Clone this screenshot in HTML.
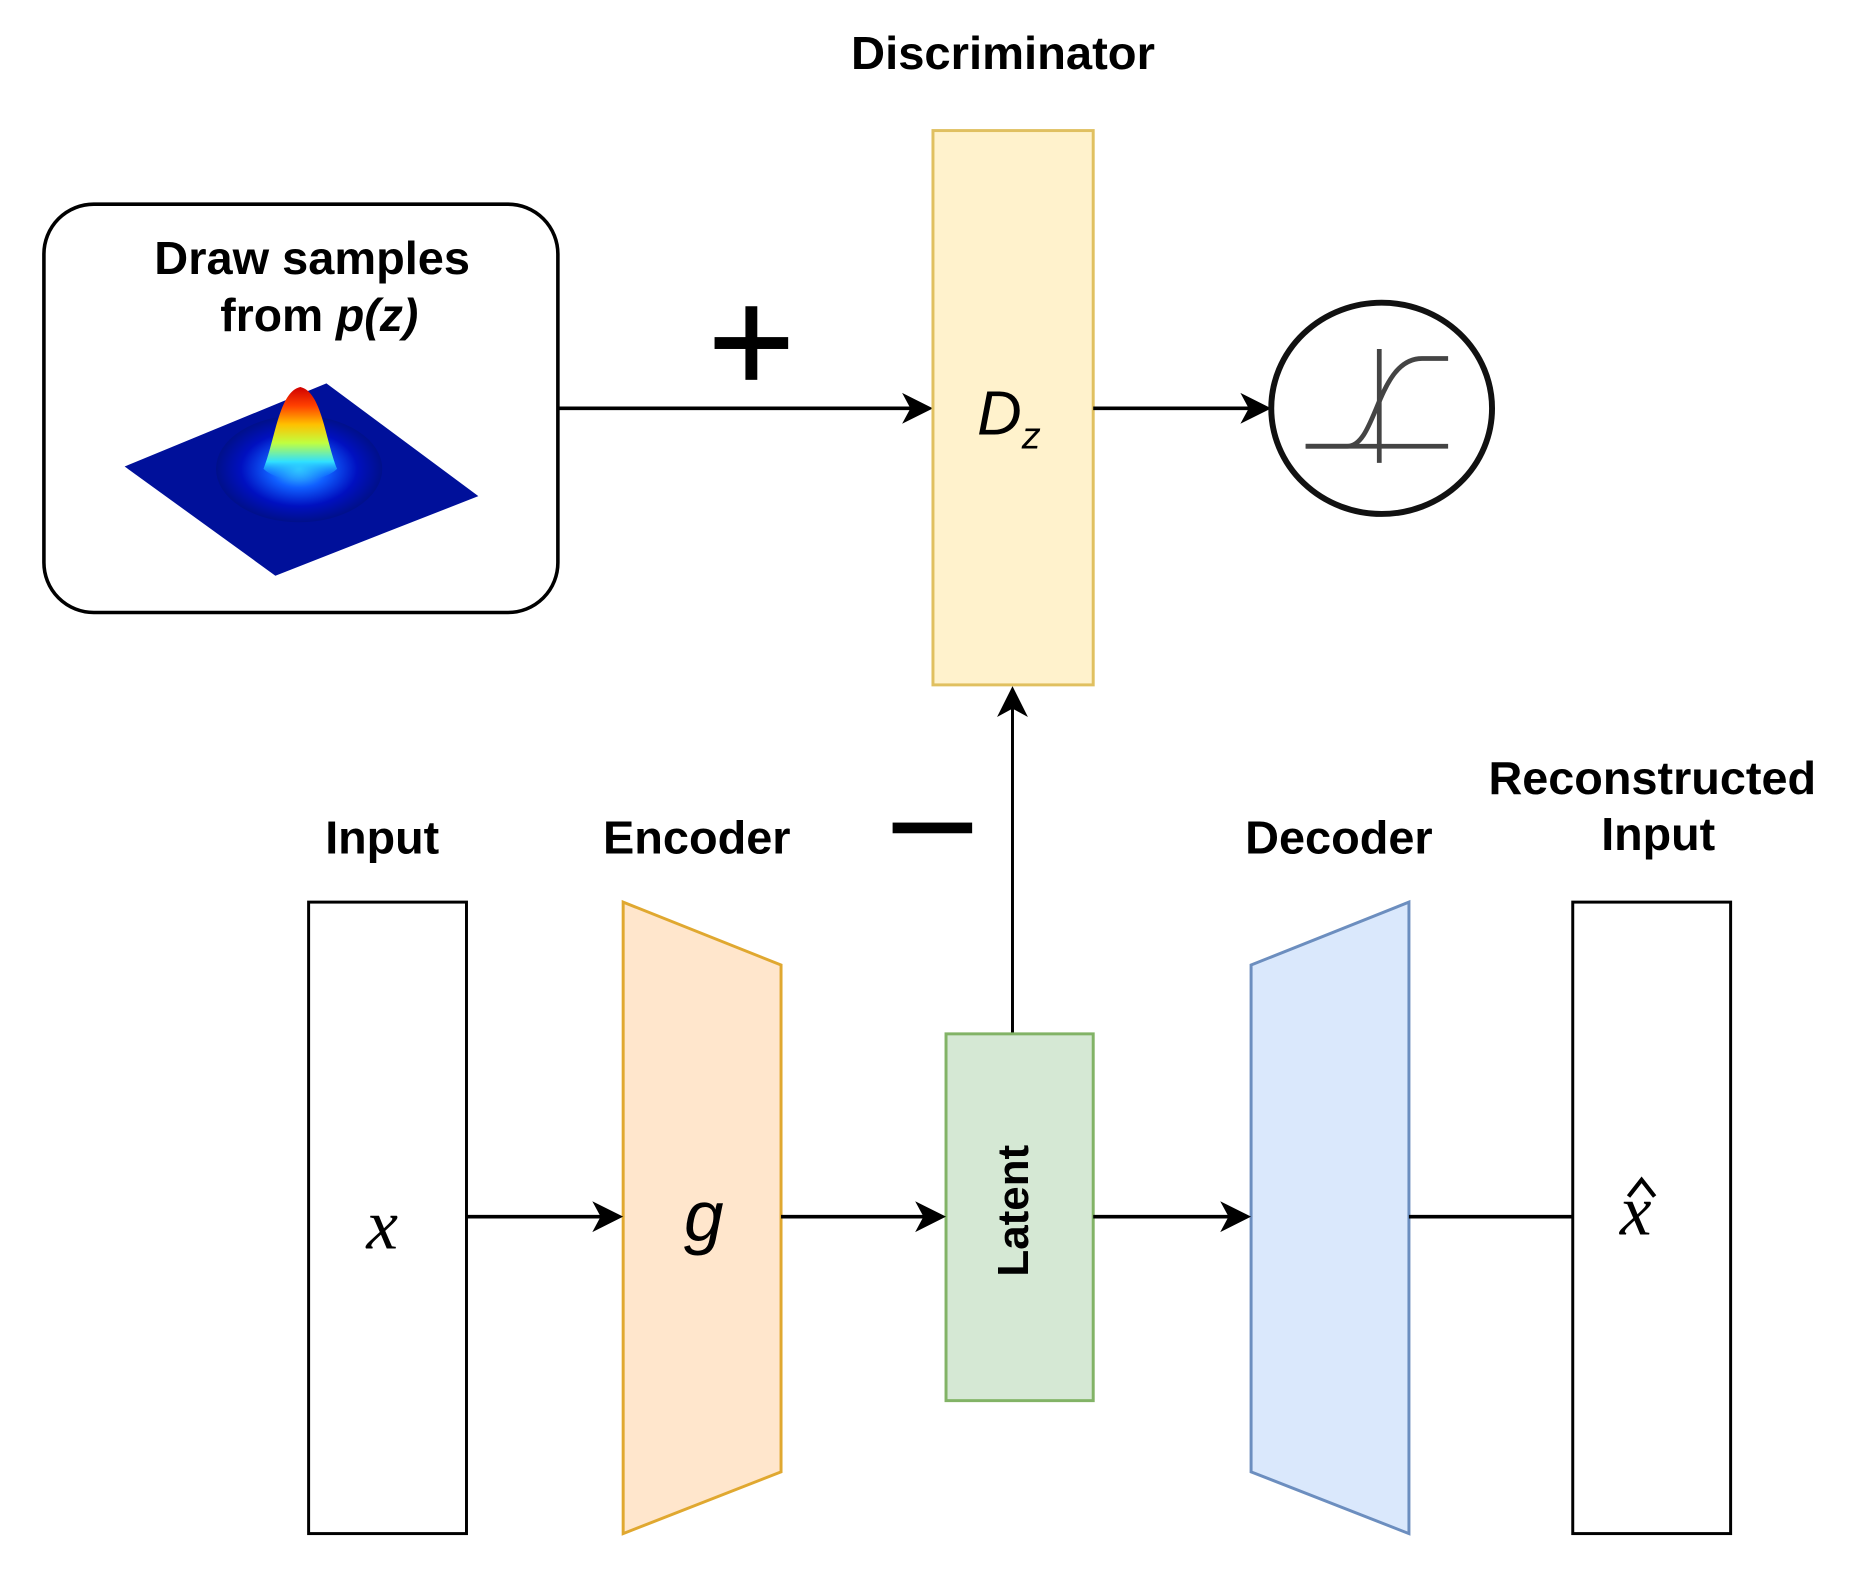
<!DOCTYPE html>
<html><head><meta charset="utf-8"><style>html,body{margin:0;padding:0;background:#fff}svg{display:block}</style></head>
<body>
<svg width="1860" height="1587" viewBox="0 0 1567 1337" preserveAspectRatio="none" xmlns="http://www.w3.org/2000/svg" font-family="Liberation Sans, sans-serif">
<defs>
<radialGradient id="gs" cx="0.5" cy="0.5" r="0.5">
<stop offset="0" stop-color="#40e0ff"/><stop offset="0.35" stop-color="#1060ff"/><stop offset="0.7" stop-color="#0010c0"/><stop offset="1" stop-color="#00108a"/>
</radialGradient>
<linearGradient id="pk" x1="0" y1="0" x2="0" y2="1">
<stop offset="0" stop-color="#d00000"/><stop offset="0.2" stop-color="#ff4000"/><stop offset="0.4" stop-color="#ffc000"/><stop offset="0.6" stop-color="#c0ff40"/><stop offset="0.8" stop-color="#30e0ff"/><stop offset="1" stop-color="#1080ff" stop-opacity="0"/>
</linearGradient>
</defs>
<text x="845" y="58" font-size="39" font-weight="bold" text-anchor="middle" textLength="256" lengthAdjust="spacingAndGlyphs">Discriminator</text>
<rect x="37" y="172" width="433" height="344" rx="42" fill="#fff" stroke="#000" stroke-width="3"/>
<text x="263" y="231" font-size="39" font-weight="bold" text-anchor="middle" textLength="266" lengthAdjust="spacingAndGlyphs">Draw samples</text>
<text x="269" y="279" font-size="39" font-weight="bold" text-anchor="middle">from <tspan font-style="italic">p(z)</tspan></text>
<polygon points="105,393 275,323 403,418 232,485" fill="#00109a"/>
<ellipse cx="252" cy="395" rx="70" ry="45" fill="url(#gs)"/>
<path d="M222,395 C232,370 235,330 253,326 C271,330 274,370 284,395 C270,408 236,408 222,395 Z" fill="url(#pk)"/>
<line x1="470" y1="344" x2="770" y2="344" stroke="#000" stroke-width="3"/>
<polygon points="786,344 760,331 767,344 760,357" fill="#000"/>
<rect x="628" y="258" width="10" height="62" fill="#000"/>
<rect x="602" y="284" width="62" height="10" fill="#000"/>
<rect x="786" y="110" width="135" height="467" fill="#fff2cc" stroke="#e0c060" stroke-width="2.5"/>
<text x="850" y="366" font-size="52" font-style="italic" text-anchor="middle">D<tspan font-size="32" dy="12">z</tspan></text>
<line x1="921" y1="344" x2="1055" y2="344" stroke="#000" stroke-width="3"/>
<polygon points="1071,344 1045,331 1052,344 1045,357" fill="#000"/>
<ellipse cx="1164" cy="344" rx="93" ry="89" fill="#fff" stroke="#111" stroke-width="5"/>
<g stroke="#444" stroke-width="4" fill="none">
<line x1="1100" y1="376" x2="1220" y2="376"/>
<line x1="1162" y1="294" x2="1162" y2="390"/>
<path d="M1100,376 L1135,376 C1160,376 1160,302 1198,302 L1220,302"/>
</g>
<line x1="853" y1="871" x2="853" y2="595" stroke="#000" stroke-width="2.5"/>
<polygon points="853,578 840,604 853,597 866,604" fill="#000"/>
<rect x="752" y="693" width="67" height="9" fill="#000"/>
<g font-size="39" font-weight="bold" text-anchor="middle">
<text x="322" y="719" textLength="96" lengthAdjust="spacingAndGlyphs">Input</text>
<text x="587" y="719" textLength="158" lengthAdjust="spacingAndGlyphs">Encoder</text>
<text x="1128" y="719" textLength="158" lengthAdjust="spacingAndGlyphs">Decoder</text>
<text x="1392" y="669" textLength="276" lengthAdjust="spacingAndGlyphs">Reconstructed</text>
<text x="1397" y="716" textLength="96" lengthAdjust="spacingAndGlyphs">Input</text>
</g>
<rect x="260" y="760" width="133" height="532" fill="#fff" stroke="#000" stroke-width="2.5"/>
<polygon points="525,760 658,813 658,1240 525,1292" fill="#ffe6cc" stroke="#e0a830" stroke-width="2.5"/>
<rect x="797" y="871" width="124" height="309" fill="#d5e8d4" stroke="#82b366" stroke-width="2.5"/>
<text transform="translate(866,1020) rotate(-90)" font-size="37" font-weight="bold" text-anchor="middle">Latent</text>
<polygon points="1054,813 1187,760 1187,1292 1054,1240" fill="#dae8fc" stroke="#6c8ebf" stroke-width="2.5"/>
<rect x="1325" y="760" width="133" height="532" fill="#fff" stroke="#000" stroke-width="2.5"/>
<text x="322" y="1052" font-size="60" font-style="italic" font-family="Liberation Serif, serif" text-anchor="middle">x</text>
<text x="593" y="1045" font-size="60" font-style="italic" text-anchor="middle">g</text>
<text x="1378" y="1040" font-size="60" font-style="italic" font-family="Liberation Serif, serif" text-anchor="middle">x</text>
<path d="M1372,1008 L1383,994 L1394,1008" fill="none" stroke="#000" stroke-width="3.5"/>
<g stroke="#000" stroke-width="3">
<line x1="393" y1="1025" x2="510" y2="1025"/>
<line x1="658" y1="1025" x2="782" y2="1025"/>
<line x1="921" y1="1025" x2="1039" y2="1025"/>
<line x1="1187" y1="1025" x2="1325" y2="1025"/>
</g>
<polygon points="525,1025 499,1012 506,1025 499,1038" fill="#000"/>
<polygon points="797,1025 771,1012 778,1025 771,1038" fill="#000"/>
<polygon points="1054,1025 1028,1012 1035,1025 1028,1038" fill="#000"/>
</svg>
</body></html>
